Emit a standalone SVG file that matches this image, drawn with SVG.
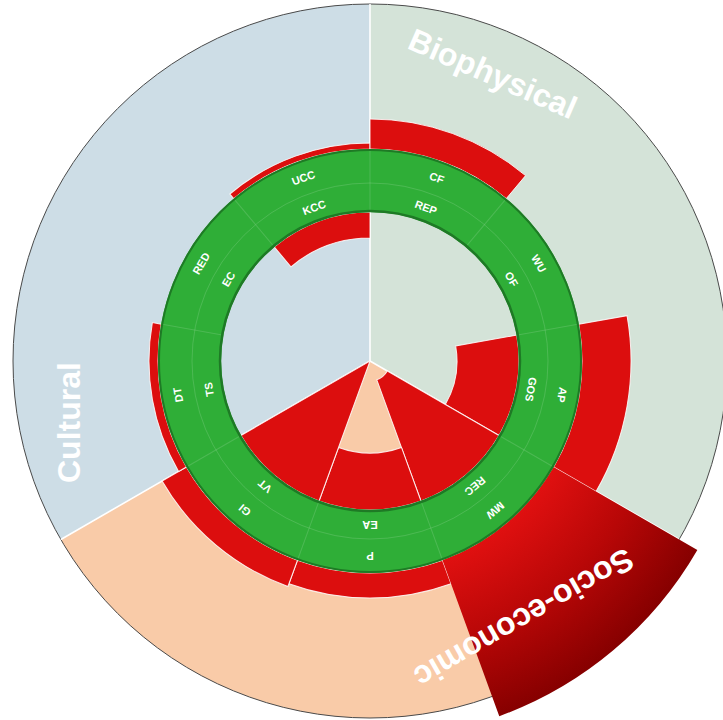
<svg xmlns="http://www.w3.org/2000/svg" width="723" height="720" viewBox="0 0 723 720">
  <style>
    .bar { fill: #dc0e0e; stroke: #ffffff; stroke-opacity: 0.85; stroke-width: 1; }
    .divider { stroke: #ffffff; stroke-width: 1.6; }
    .cell { stroke: #ffffff; stroke-opacity: 0.14; stroke-width: 1; fill: none; }
    .lbl { font-family: "Liberation Sans", Arial, sans-serif; font-weight: bold; font-size: 11px; fill: #ffffff; text-anchor: middle; }
    .dim { font-family: "Liberation Sans", Arial, sans-serif; font-weight: bold; font-size: 32px; fill: #ffffff; }
  </style>
  <defs>
    <radialGradient id="hiGrad" gradientUnits="userSpaceOnUse" cx="0" cy="0" r="378">
      <stop offset="0.56" stop-color="#e01010"/>
      <stop offset="0.78" stop-color="#b80707"/>
      <stop offset="1" stop-color="#860000"/>
    </radialGradient>
    <!-- 40-degree annular sectors starting at 12 o'clock, rotated into place -->
    <path id="bg120" d="M0 0 L0 -357 A357 357 0 0 1 309.17 178.5 Z"/>
  </defs>
  <rect width="723" height="720" fill="#ffffff"/>

  <g transform="translate(370 361)">
    <!-- dimension backgrounds -->
    <g id="dimensions">
      <use href="#bg120" fill="#d4e3d8"/>
      <use href="#bg120" fill="#f9cba8" transform="rotate(120)"/>
      <use href="#bg120" fill="#cddde6" transform="rotate(240)"/>
      <circle r="357" fill="none" stroke="#4a4a4a" stroke-width="1"/>
    </g>

    <!-- dimension boundaries -->
    <g id="connectors">
      <line class="divider" x1="0" y1="0" x2="0" y2="-357"/>
      <line class="divider" x1="0" y1="0" x2="0" y2="-357" transform="rotate(120)"/>
      <line class="divider" x1="0" y1="0" x2="0" y2="-357" transform="rotate(240)"/>
    </g>

    <!-- outer indicator bars -->
    <g id="bar-UCC"><path class="bar" transform="rotate(320)" d="M0 -218 A218 218 0 0 1 140.13 -167 L136.27 -162.4 A212 212 0 0 0 0 -212 Z"/></g>
    <g id="bar-CF"><path class="bar" d="M0 -242 A242 242 0 0 1 155.56 -185.38 L136.27 -162.4 A212 212 0 0 0 0 -212 Z"/></g>
    <g id="bar-AP"><path class="bar" transform="rotate(80)" d="M0 -261 A261 261 0 0 1 167.77 -199.94 L136.27 -162.4 A212 212 0 0 0 0 -212 Z"/></g>
    <g id="bar-P"><path class="bar" transform="rotate(160)" d="M0 -237 A237 237 0 0 1 152.34 -181.55 L136.27 -162.4 A212 212 0 0 0 0 -212 Z"/></g>
    <g id="bar-GI"><path class="bar" transform="rotate(200)" d="M0 -240 A240 240 0 0 1 154.27 -183.85 L136.27 -162.4 A212 212 0 0 0 0 -212 Z"/></g>
    <g id="bar-DT"><path class="bar" transform="rotate(240)" d="M0 -221 A221 221 0 0 1 142.06 -169.29 L136.27 -162.4 A212 212 0 0 0 0 -212 Z"/></g>
    <g id="bar-MW"><path transform="rotate(120)" fill="url(#hiGrad)" d="M0 -378 A378 378 0 0 1 242.97 -289.56 L136.27 -162.4 A212 212 0 0 0 0 -212 Z"/></g>

    <!-- inner indicator bars -->
    <g id="bar-KCC"><path class="bar" transform="rotate(320)" d="M0 -149 A149 149 0 0 1 95.78 -114.14 L79.06 -94.22 A123 123 0 0 0 0 -123 Z"/></g>
    <g id="bar-GOS"><path class="bar" transform="rotate(80)" d="M0 -149 A149 149 0 0 1 95.78 -114.14 L55.92 -66.65 A87 87 0 0 0 0 -87 Z"/></g>
    <g id="bar-REC"><path class="bar" transform="rotate(120)" d="M0 -149 A149 149 0 0 1 95.78 -114.14 L12.86 -15.32 A20 20 0 0 0 0 -20 Z"/></g>
    <g id="bar-EA"><path class="bar" transform="rotate(160)" d="M0 -149 A149 149 0 0 1 95.78 -114.14 L59.14 -70.48 A92 92 0 0 0 0 -92 Z"/></g>
    <g id="bar-VT"><path class="bar" transform="rotate(200)" d="M0 -149 A149 149 0 0 1 95.78 -114.14 L0 0 Z"/></g>

    <!-- indicator ring -->
    <g id="ring">
      <circle r="180.5" fill="none" stroke="#2fae37" stroke-width="63"/>
      <circle class="cell" r="178"/>
      <g class="cell">
        <line x1="0" y1="-150" x2="0" y2="-211"/>
        <line x1="0" y1="-150" x2="0" y2="-211" transform="rotate(40)"/>
        <line x1="0" y1="-150" x2="0" y2="-211" transform="rotate(80)"/>
        <line x1="0" y1="-150" x2="0" y2="-211" transform="rotate(120)"/>
        <line x1="0" y1="-150" x2="0" y2="-211" transform="rotate(160)"/>
        <line x1="0" y1="-150" x2="0" y2="-211" transform="rotate(200)"/>
        <line x1="0" y1="-150" x2="0" y2="-211" transform="rotate(240)"/>
        <line x1="0" y1="-150" x2="0" y2="-211" transform="rotate(280)"/>
        <line x1="0" y1="-150" x2="0" y2="-211" transform="rotate(320)"/>
      </g>
      <circle r="211" fill="none" stroke="#1e7a25" stroke-width="2"/>
      <circle r="150" fill="none" stroke="#1e7a25" stroke-width="2.5"/>
    </g>

    <!-- ring labels: outer band r=195, inner band r=163.5 -->
    <g id="labels">
      <text class="lbl" transform="rotate(20) translate(0 -195)" dy="0.36em">CF</text>
      <text class="lbl" transform="rotate(20) translate(0 -163.5)" dy="0.36em">REP</text>
      <text class="lbl" transform="rotate(60) translate(0 -195)" dy="0.36em">WU</text>
      <text class="lbl" transform="rotate(60) translate(0 -163.5)" dy="0.36em">OF</text>
      <text class="lbl" transform="rotate(100) translate(0 -195)" dy="0.36em">AP</text>
      <text class="lbl" transform="rotate(100) translate(0 -163.5)" dy="0.36em">GOS</text>
      <text class="lbl" transform="rotate(140) translate(0 -195)" dy="0.36em">MW</text>
      <text class="lbl" transform="rotate(140) translate(0 -163.5)" dy="0.36em">REC</text>
      <text class="lbl" transform="rotate(180) translate(0 -195)" dy="0.36em">P</text>
      <text class="lbl" transform="rotate(180) translate(0 -163.5)" dy="0.36em">EA</text>
      <text class="lbl" transform="rotate(220) translate(0 -195)" dy="0.36em">GI</text>
      <text class="lbl" transform="rotate(220) translate(0 -163.5)" dy="0.36em">VT</text>
      <text class="lbl" transform="rotate(260) translate(0 -195)" dy="0.36em">DT</text>
      <text class="lbl" transform="rotate(260) translate(0 -163.5)" dy="0.36em">TS</text>
      <text class="lbl" transform="rotate(300) translate(0 -195)" dy="0.36em">RED</text>
      <text class="lbl" transform="rotate(300) translate(0 -163.5)" dy="0.36em">EC</text>
      <text class="lbl" transform="rotate(340) translate(0 -195)" dy="0.36em">UCC</text>
      <text class="lbl" transform="rotate(340) translate(0 -163.5)" dy="0.36em">KCC</text>
    </g>
  </g>

  <!-- dimension titles -->
  <g id="titles">
    <text class="dim" transform="translate(406 48) rotate(23.5)">Biophysical</text>
    <text class="dim" transform="translate(80 483) rotate(-90)">Cultural</text>
    <text class="dim" transform="translate(625.5 547) rotate(150)">Socio-economic</text>
  </g>
</svg>
